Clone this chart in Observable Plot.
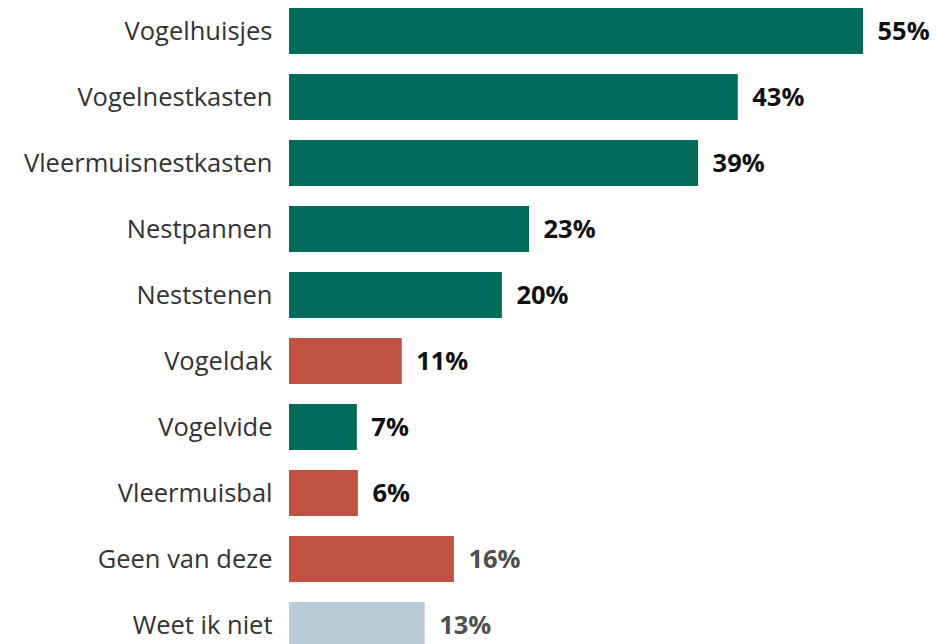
<!DOCTYPE html>
<html>
<head>
<meta charset="utf-8">
<script src="https://cdn.jsdelivr.net/npm/d3@7"></script>
<script src="https://cdn.jsdelivr.net/npm/@observablehq/plot@0.6"></script>
<style>
  html, body { margin: 0; padding: 0; background: #ffffff; }
  #chart svg { display: block; }
</style>
</head>
<body>
<div id="chart"></div>
<script>
const categories = ["Vogelhuisjes", "Vogelnestkasten", "Vleermuisnestkasten", "Nestpannen", "Neststenen", "Vogeldak", "Vogelvide", "Vleermuisbal", "Geen van deze", "Weet ik niet"];
const values = [55, 43, 39.2, 23, 20.4, 10.8, 6.5, 6.6, 15.8, 13.0];
const valueLabels = ["55%", "43%", "39%", "23%", "20%", "11%", "7%", "6%", "16%", "13%"];
const groups = ["green", "green", "green", "green", "green", "red", "green", "red", "red", "grey"];

const groupFill = {green: "#006b5a", red: "#c05244", grey: "#b8cbd6"};

const data = categories.map((c, i) => ({
  category: c,
  value: values[i],
  label: valueLabels[i],
  group: groups[i],
  textColor: i >= 8 ? "#505050" : "#111111"
}));

const chart = Plot.plot({
  width: 936,
  height: 644,
  marginLeft: 289,
  marginRight: 73,
  marginTop: 0,
  marginBottom: 0,
  style: {fontFamily: "'Open Sans', sans-serif", background: "#ffffff"},
  x: {domain: [0, d3.max(values)], axis: null},
  y: {domain: categories, range: [0, 656], paddingInner: 0.303, paddingOuter: 0.121, axis: null},
  marks: [
    Plot.barX(data, {y: "category", x: "value", fill: d => groupFill[d.group]}),
    Plot.text(data, {
      y: "category", x: "value", text: "label",
      dx: 14, textAnchor: "start",
      fill: d => d.textColor,
      fontSize: 25.5, fontWeight: "bold"
    }),
    Plot.axisY({tickSize: 0, tickPadding: 17, fontSize: 25.5, fill: "#333333", label: null})
  ]
});
document.getElementById("chart").appendChild(chart);
</script>
</body>
</html>
